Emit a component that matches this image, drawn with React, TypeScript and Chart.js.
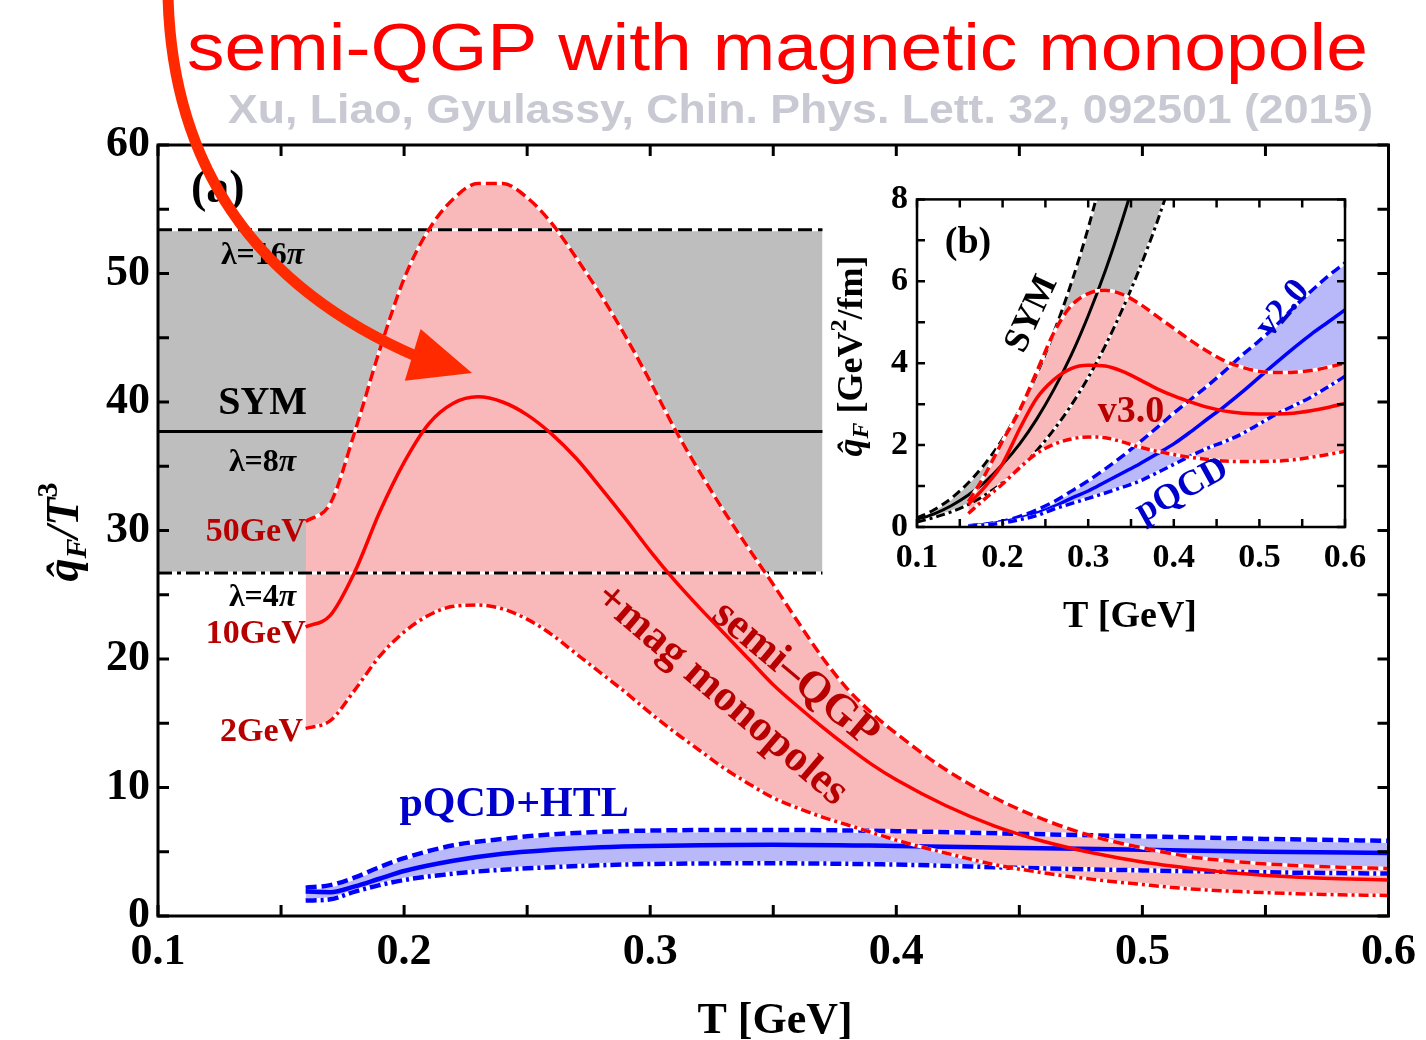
import React, { useEffect, useRef } from 'react';
import { Chart, registerables } from 'chart.js';

Chart.register(...registerables);

const SERIF = '"Liberation Serif", "Times New Roman", Times, serif';
const SANS = '"Liberation Sans", Arial, Helvetica, sans-serif';

const RED = '#ff0000';
const BLUE = '#0000ff';
const DARK_RED = '#b80000';
const LABEL_BLUE = '#0000cc';
const GRAY_FILL = '#bebebe';
const PINK_FILL = '#f9b9ba';
const BLUE_FILL = '#b9b9fa';
const ARROW_RED = '#ff2a00';

// ---------- panel (a): q̂_F / T³ versus T ----------
const symT = [0.1, 0.37];
const sym16pi = [53.4, 53.4];
const sym8pi = [37.7, 37.7];
const sym4pi = [26.7, 26.7];

const semiT = [
  0.16, 0.17, 0.18, 0.19, 0.2, 0.21, 0.22, 0.23, 0.24, 0.25, 0.26, 0.27, 0.28, 0.29, 0.3, 0.31, 0.32, 0.33,
  0.34, 0.35, 0.36, 0.37, 0.38, 0.39, 0.4, 0.42, 0.44, 0.46, 0.48, 0.5, 0.52, 0.54, 0.56, 0.58, 0.6,
];
const semi50GeV = [
  30.7, 32.1, 37.7, 44.0, 49.6, 53.4, 55.8, 57.0, 57.0, 55.9, 53.9, 51.2, 48.3, 45.1, 41.6, 37.9, 34.6, 31.5,
  28.6, 25.8, 22.9, 20.1, 17.7, 15.8, 14.2, 11.4, 9.2, 7.5, 6.2, 5.3, 4.6, 4.2, 3.95, 3.8, 3.7,
];
const semi10GeV = [
  22.5, 23.4, 26.8, 31.4, 35.3, 38.3, 39.9, 40.4, 40.0, 39.0, 37.5, 35.6, 33.3, 30.9, 28.4, 26.1, 24.0, 22.0,
  20.0, 18.0, 16.3, 14.7, 13.2, 11.8, 10.6, 8.6, 7.0, 5.8, 4.9, 4.2, 3.7, 3.3, 3.05, 2.9, 2.8,
];
const semi2GeV = [
  14.6, 15.2, 17.6, 20.2, 22.1, 23.4, 24.1, 24.2, 23.9, 23.1, 21.9, 20.4, 18.9, 17.4, 15.8, 14.3, 12.9, 11.5,
  10.3, 9.2, 8.4, 7.7, 7.1, 6.5, 5.9, 4.9, 4.0, 3.35, 2.85, 2.45, 2.1, 1.9, 1.75, 1.65, 1.6,
];

const pqcdT = [0.16, 0.17, 0.18, 0.19, 0.2, 0.22, 0.24, 0.26, 0.28, 0.3, 0.35, 0.4, 0.45, 0.5, 0.55, 0.6];
const pqcdUpper = [2.2, 2.4, 3.0, 3.8, 4.5, 5.5, 6.0, 6.35, 6.55, 6.65, 6.7, 6.6, 6.4, 6.2, 6.0, 5.85];
const pqcdCentral = [1.9, 1.85, 2.3, 2.9, 3.5, 4.3, 4.85, 5.15, 5.35, 5.45, 5.55, 5.45, 5.3, 5.15, 5.0, 4.9];
const pqcdLower = [1.2, 1.3, 1.9, 2.4, 2.8, 3.3, 3.6, 3.8, 3.95, 4.05, 4.1, 4.0, 3.75, 3.55, 3.4, 3.3];

// ---------- panel (b): q̂_F in GeV²/fm versus T ----------
const insetSymT = [0.1, 0.12, 0.14, 0.16, 0.18, 0.2, 0.22, 0.24, 0.26, 0.28, 0.3, 0.32, 0.34, 0.36, 0.38, 0.4];
const insetSym16pi = [0.22, 0.42, 0.7, 1.08, 1.56, 2.15, 2.87, 3.74, 4.76, 5.94, 7.3, 8.9, 10.6, 12.6, 14.8, 17.3];
const insetSym8pi = [0.17, 0.32, 0.52, 0.78, 1.11, 1.53, 2.03, 2.64, 3.36, 4.19, 5.16, 6.26, 7.51, 8.9, 10.5, 12.2];
const insetSym4pi = [0.12, 0.23, 0.37, 0.55, 0.79, 1.08, 1.44, 1.87, 2.38, 2.97, 3.65, 4.43, 5.32, 6.31, 7.42, 8.66];

const insetT = [
  0.16, 0.18, 0.2, 0.22, 0.24, 0.26, 0.28, 0.3, 0.32, 0.34, 0.36, 0.38, 0.4, 0.42, 0.44, 0.46, 0.48, 0.5, 0.52,
  0.54, 0.56, 0.58, 0.6,
];
const v3Upper = [
  0.62, 1.3, 2.1, 2.85, 3.8, 4.75, 5.4, 5.7, 5.78, 5.68, 5.45, 5.15, 4.85, 4.55, 4.28, 4.05, 3.9, 3.8, 3.77, 3.78,
  3.82, 3.9, 4.0,
];
const v3Central = [
  0.55, 1.0, 1.55, 2.4, 3.15, 3.6, 3.87, 3.95, 3.93, 3.8, 3.6, 3.38, 3.2, 3.05, 2.92, 2.83, 2.78, 2.76, 2.76, 2.78,
  2.84, 2.92, 3.02,
];
const v3Lower = [
  0.33, 0.7, 1.05, 1.45, 1.8, 2.02, 2.15, 2.2, 2.18, 2.08, 1.95, 1.85, 1.77, 1.7, 1.65, 1.61, 1.6, 1.6, 1.61, 1.64,
  1.7, 1.77, 1.85,
];
const v2Upper = [
  0.03, 0.07, 0.14, 0.26, 0.42, 0.62, 0.87, 1.13, 1.42, 1.73, 2.07, 2.42, 2.78, 3.12, 3.46, 3.82, 4.2, 4.55, 4.93,
  5.36, 5.75, 6.12, 6.45,
];
const v2Central = [
  0.03, 0.06, 0.12, 0.22, 0.34, 0.5, 0.7, 0.88, 1.1, 1.32, 1.54, 1.78, 2.03, 2.33, 2.65, 2.96, 3.3, 3.66, 4.02,
  4.37, 4.7, 5.0, 5.3,
];
const v2Lower = [
  0.02, 0.05, 0.1, 0.18, 0.28, 0.44, 0.57, 0.7, 0.83, 0.97, 1.12, 1.32, 1.53, 1.74, 1.93, 2.09, 2.28, 2.52, 2.76,
  2.96, 3.17, 3.42, 3.68,
];

// ---------- axes ----------
const xTickValues = [0.1, 0.15, 0.2, 0.25, 0.3, 0.35, 0.4, 0.45, 0.5, 0.55, 0.6];
const xTickLabels = ['0.1', '0.2', '0.3', '0.4', '0.5', '0.6'];
const mainYTickValues = [0, 5, 10, 15, 20, 25, 30, 35, 40, 45, 50, 55, 60];
const mainYTickLabels = ['0', '10', '20', '30', '40', '50', '60'];
const insetYTickValues = [0, 1, 2, 3, 4, 5, 6, 7, 8];
const insetYTickLabels = ['0', '2', '4', '6', '8'];

// page geometry
const PAGE_W = 1426;
const PAGE_H = 1040;
const INSET_LEFT = 820;
const INSET_TOP = 170;
const INSET_W = 560;
const INSET_H = 470;

type TextLabel = { text: string; x: number; y: number; size: number; color: string; angle?: number };

const panelALabels: TextLabel[] = [
  { text: '(a)', x: 0.1243, y: 56.5, size: 46, color: '#000' },
  { text: 'λ=16π', x: 0.1425, y: 51.4, size: 32, color: '#000' },
  { text: 'SYM', x: 0.1425, y: 39.9, size: 40, color: '#000' },
  { text: 'λ=8π', x: 0.1425, y: 35.3, size: 32, color: '#000' },
  { text: '50GeV', x: 0.1397, y: 29.9, size: 34, color: DARK_RED },
  { text: 'λ=4π', x: 0.1425, y: 24.8, size: 32, color: '#000' },
  { text: '10GeV', x: 0.1397, y: 21.9, size: 34, color: DARK_RED },
  { text: '2GeV', x: 0.1421, y: 14.3, size: 34, color: DARK_RED },
  { text: 'pQCD+HTL', x: 0.2447, y: 8.6, size: 42, color: LABEL_BLUE },
  { text: 'semi–QGP', x: 0.3589, y: 18.8, size: 44, color: DARK_RED, angle: 40 },
  { text: '+mag monopoles', x: 0.3289, y: 17.2, size: 44, color: DARK_RED, angle: 40.5 },
];

const panelBLabels: TextLabel[] = [
  { text: '(b)', x: 0.1596, y: 6.92, size: 38, color: '#000' },
  { text: 'SYM', x: 0.2343, y: 5.2, size: 36, color: '#000', angle: -65 },
  { text: 'v3.0', x: 0.35, y: 2.8, size: 38, color: DARK_RED },
  { text: 'v2.0', x: 0.5276, y: 5.32, size: 36, color: LABEL_BLUE, angle: -50 },
  { text: 'pQCD', x: 0.4096, y: 0.886, size: 36, color: LABEL_BLUE, angle: -29 },
];

const titleText = 'semi-QGP with magnetic monopole';
const citationText = 'Xu, Liao, Gyulassy, Chin. Phys. Lett. 32, 092501 (2015)';

// ---------- helpers ----------
const labelFor = (labels: string[]) => (v: number) =>
  labels.find((l) => Math.abs(Number(l) - v) < 1e-9) ?? '';

function pts(xs: number[], ys: number[]) {
  return xs.map((x, i) => ({ x, y: ys[i] }));
}

function curve(xs: number[], ys: number[], color: string, width: number, dash: number[] = []): any {
  return {
    data: pts(xs, ys),
    borderColor: color,
    borderWidth: width,
    borderDash: dash,
    borderCapStyle: 'butt',
    borderJoinStyle: 'round',
    pointRadius: 0,
    pointHoverRadius: 0,
    fill: false,
    cubicInterpolationMode: 'monotone',
    clip: 0,
  };
}

// upper dashed edge + optional solid centre + lower dash-dot edge, filled between the edges
function addBand(
  list: any[],
  xs: number[],
  upper: number[],
  central: number[] | null,
  lower: number[],
  color: string,
  fillColor: string,
  width: number,
  dash: number[],
  dashDot: number[],
) {
  const lowerIndex = list.length + (central ? 4 : 3);
  list.push(curve(xs, upper, '#ffffff', width));
  list.push({ ...curve(xs, upper, color, width, dash), fill: lowerIndex, backgroundColor: fillColor });
  if (central) list.push(curve(xs, central, color, width));
  list.push(curve(xs, lower, '#ffffff', width));
  list.push(curve(xs, lower, color, width, dashDot));
}

function withOrder(list: any[]) {
  list.forEach((d, i) => (d.order = list.length - i));
  return list;
}

function axis(values: number[], labels: string[], size: number, padding: number, fit: (s: any) => void): any {
  return {
    type: 'linear',
    min: values[0],
    max: values[values.length - 1],
    grid: { display: false, drawTicks: false },
    border: { display: false },
    afterBuildTicks: (s: any) => {
      s.ticks = values.map((v) => ({ value: v }));
    },
    afterFit: fit,
    ticks: {
      autoSkip: false,
      maxRotation: 0,
      minRotation: 0,
      padding,
      color: '#000',
      font: { family: SERIF, size, weight: 'bold' },
      callback: (v: any) => labelFor(labels)(Number(v)),
    },
  };
}

function frameAndTicks(chart: any, len: number, tickWidth: number, frameWidth: number) {
  const { ctx, chartArea: a, scales } = chart;
  const x = scales.x;
  const y = scales.y;
  ctx.save();
  ctx.strokeStyle = '#000';
  ctx.lineWidth = tickWidth;
  ctx.beginPath();
  x.ticks.forEach((t: any) => {
    const px = x.getPixelForValue(t.value);
    ctx.moveTo(px, a.bottom);
    ctx.lineTo(px, a.bottom - len);
    ctx.moveTo(px, a.top);
    ctx.lineTo(px, a.top + len);
  });
  y.ticks.forEach((t: any) => {
    const py = y.getPixelForValue(t.value);
    ctx.moveTo(a.left, py);
    ctx.lineTo(a.left + len, py);
    ctx.moveTo(a.right, py);
    ctx.lineTo(a.right - len, py);
  });
  ctx.stroke();
  ctx.lineWidth = frameWidth;
  ctx.strokeRect(a.left, a.top, a.right - a.left, a.bottom - a.top);
  ctx.restore();
}

type Piece = { t: string; f: string; dy?: number };

// text built from runs of different fonts, centred horizontally on the origin along its baseline
function drawRich(
  ctx: CanvasRenderingContext2D,
  pieces: Piece[],
  cx: number,
  cy: number,
  angle: number,
  color = '#000',
  baseline: CanvasTextBaseline = 'alphabetic',
) {
  ctx.save();
  ctx.translate(cx, cy);
  ctx.rotate(angle);
  ctx.fillStyle = color;
  ctx.textAlign = 'left';
  ctx.textBaseline = baseline;
  const widths = pieces.map((p) => {
    ctx.font = p.f;
    return ctx.measureText(p.t).width;
  });
  let x = -widths.reduce((s, w) => s + w, 0) / 2;
  pieces.forEach((p, i) => {
    ctx.font = p.f;
    ctx.fillText(p.t, x, p.dy ?? 0);
    x += widths[i];
  });
  ctx.restore();
}

// in-plot labels, anchored in data coordinates; a trailing π is set in italics
function drawLabels(chart: any, labels: TextLabel[]) {
  const { ctx, scales } = chart;
  labels.forEach((l) => {
    const px = scales.x.getPixelForValue(l.x);
    const py = scales.y.getPixelForValue(l.y);
    const upright = `bold ${l.size}px ${SERIF}`;
    const pieces: Piece[] = l.text.endsWith('π')
      ? [
          { t: l.text.slice(0, -1), f: upright },
          { t: 'π', f: `italic bold ${l.size}px ${SERIF}` },
        ]
      : [{ t: l.text, f: upright }];
    drawRich(ctx, pieces, px, py, ((l.angle ?? 0) * Math.PI) / 180, l.color, 'middle');
  });
}

function drawFitted(
  ctx: CanvasRenderingContext2D,
  text: string,
  font: string,
  color: string,
  left: number,
  right: number,
  baseline: number,
) {
  ctx.save();
  ctx.font = font;
  ctx.fillStyle = color;
  ctx.textAlign = 'left';
  ctx.textBaseline = 'alphabetic';
  const w = ctx.measureText(text).width;
  ctx.translate(left, baseline);
  ctx.scale((right - left) / w, 1);
  ctx.fillText(text, 0, 0);
  ctx.restore();
}

function drawArrow(ctx: CanvasRenderingContext2D) {
  ctx.save();
  ctx.strokeStyle = ARROW_RED;
  ctx.fillStyle = ARROW_RED;
  ctx.lineWidth = 11;
  ctx.lineCap = 'butt';
  ctx.beginPath();
  ctx.moveTo(168, -4);
  ctx.bezierCurveTo(172, 160, 250, 285, 418, 357);
  ctx.stroke();
  const tip = { x: 472, y: 373 };
  const ang = (17 * Math.PI) / 180;
  const len = 62;
  const half = 27;
  const bx = tip.x - len * Math.cos(ang);
  const by = tip.y - len * Math.sin(ang);
  const nx = -Math.sin(ang);
  const ny = Math.cos(ang);
  ctx.beginPath();
  ctx.moveTo(tip.x, tip.y);
  ctx.lineTo(bx + half * nx, by + half * ny);
  ctx.lineTo(bx - half * nx, by - half * ny);
  ctx.closePath();
  ctx.fill();
  ctx.restore();
}

// ---------- chart configs ----------
function mainConfig(): any {
  const ds: any[] = [];
  // SYM band (λ = 16π … 4π)
  addBand(ds, symT, sym16pi, sym8pi, sym4pi, '#000', GRAY_FILL, 3, [14, 6], [14, 5, 4, 5]);
  // pQCD + HTL
  addBand(ds, pqcdT, pqcdUpper, pqcdCentral, pqcdLower, BLUE, BLUE_FILL, 4.5, [11, 5], [11, 4, 3, 4]);
  // semi-QGP + magnetic monopoles, E = 50 / 10 / 2 GeV
  addBand(ds, semiT, semi50GeV, semi10GeV, semi2GeV, RED, PINK_FILL, 3.5, [11, 5], [10, 4, 3, 4]);

  const plugin = {
    id: 'panelA',
    afterDatasetsDraw(chart: any) {
      frameAndTicks(chart, 11, 3, 3);
    },
    afterDraw(chart: any) {
      const ctx = chart.ctx as CanvasRenderingContext2D;
      drawLabels(chart, panelALabels);
      // axis titles
      ctx.save();
      ctx.font = `bold 44px ${SERIF}`;
      ctx.fillStyle = '#000';
      ctx.textAlign = 'center';
      ctx.textBaseline = 'alphabetic';
      ctx.fillText('T [GeV]', 775, 1033);
      ctx.restore();
      drawRich(
        ctx,
        [
          { t: 'q\u0302', f: `italic bold 46px ${SERIF}` },
          { t: 'F', f: `italic bold 30px ${SERIF}`, dy: 8 },
          { t: '/T', f: `italic bold 46px ${SERIF}` },
          { t: '3', f: `bold 30px ${SERIF}`, dy: -21 },
        ],
        78,
        532,
        -Math.PI / 2,
      );
      // heading
      drawFitted(ctx, titleText, `66px ${SANS}`, '#ff0000', 187, 1368, 70);
      drawFitted(ctx, citationText, `bold 40px ${SANS}`, '#c8c9d2', 228, 1373, 123);
      drawArrow(ctx);
    },
  };

  return {
    type: 'line',
    data: { datasets: withOrder(ds) },
    options: {
      responsive: false,
      animation: false,
      events: [],
      layout: { padding: { left: 0, top: 145, right: 34, bottom: 0 } },
      plugins: {
        legend: { display: false },
        tooltip: { enabled: false },
        filler: { drawTime: 'beforeDatasetsDraw' },
      },
      scales: {
        x: axis(xTickValues, xTickLabels, 44, 10, (s: any) => {
          s.height = PAGE_H - 916;
        }),
        y: axis(mainYTickValues, mainYTickLabels, 44, 8, (s: any) => {
          s.width = 158;
        }),
      },
    },
    plugins: [plugin],
  };
}

function insetConfig(): any {
  const ds: any[] = [];
  addBand(ds, insetSymT, insetSym16pi, insetSym8pi, insetSym4pi, '#000', GRAY_FILL, 3, [9, 5], [9, 4, 3, 4]);
  addBand(ds, insetT, v2Upper, v2Central, v2Lower, BLUE, BLUE_FILL, 3.5, [10, 5], [9, 4, 3, 4]);
  addBand(ds, insetT, v3Upper, v3Central, v3Lower, RED, PINK_FILL, 3.5, [10, 5], [9, 4, 3, 4]);

  const plugin = {
    id: 'panelB',
    afterDatasetsDraw(chart: any) {
      frameAndTicks(chart, 8, 2.5, 2.5);
    },
    afterDraw(chart: any) {
      const ctx = chart.ctx as CanvasRenderingContext2D;
      drawLabels(chart, panelBLabels);
      ctx.save();
      ctx.font = `bold 38px ${SERIF}`;
      ctx.fillStyle = '#000';
      ctx.textAlign = 'center';
      ctx.textBaseline = 'alphabetic';
      ctx.fillText('T [GeV]', 1130 - INSET_LEFT, 627 - INSET_TOP);
      ctx.restore();
      drawRich(
        ctx,
        [
          { t: 'q\u0302', f: `italic bold 36px ${SERIF}` },
          { t: 'F', f: `italic bold 24px ${SERIF}`, dy: 6 },
          { t: ' [GeV', f: `bold 36px ${SERIF}` },
          { t: '2', f: `bold 24px ${SERIF}`, dy: -16 },
          { t: '/fm]', f: `bold 36px ${SERIF}` },
        ],
        862 - INSET_LEFT,
        356 - INSET_TOP,
        -Math.PI / 2,
      );
    },
  };

  return {
    type: 'line',
    data: { datasets: withOrder(ds) },
    options: {
      responsive: false,
      animation: false,
      events: [],
      layout: { padding: { left: 0, top: 193 - INSET_TOP, right: INSET_W - (1345 - INSET_LEFT), bottom: 0 } },
      plugins: {
        legend: { display: false },
        tooltip: { enabled: false },
        filler: { drawTime: 'beforeDatasetsDraw' },
      },
      scales: {
        x: axis(xTickValues, xTickLabels, 34, 11, (s: any) => {
          s.height = INSET_H - (527 - INSET_TOP);
        }),
        y: axis(insetYTickValues, insetYTickLabels, 34, 9, (s: any) => {
          s.width = 917 - INSET_LEFT;
        }),
      },
    },
    plugins: [plugin],
  };
}

export default function App() {
  const mainRef = useRef<HTMLCanvasElement>(null);
  const insetRef = useRef<HTMLCanvasElement>(null);

  useEffect(() => {
    const main = new Chart(mainRef.current as HTMLCanvasElement, mainConfig());
    const inset = new Chart(insetRef.current as HTMLCanvasElement, insetConfig());
    return () => {
      main.destroy();
      inset.destroy();
    };
  }, []);

  return (
    <div
      style={{
        position: 'absolute',
        left: 0,
        top: 0,
        width: PAGE_W,
        height: PAGE_H,
        background: '#ffffff',
        overflow: 'hidden',
      }}
    >
      <canvas
        ref={mainRef}
        width={PAGE_W}
        height={PAGE_H}
        style={{ position: 'absolute', left: 0, top: 0, width: PAGE_W, height: PAGE_H }}
      />
      <canvas
        ref={insetRef}
        width={INSET_W}
        height={INSET_H}
        style={{ position: 'absolute', left: INSET_LEFT, top: INSET_TOP, width: INSET_W, height: INSET_H }}
      />
    </div>
  );
}
